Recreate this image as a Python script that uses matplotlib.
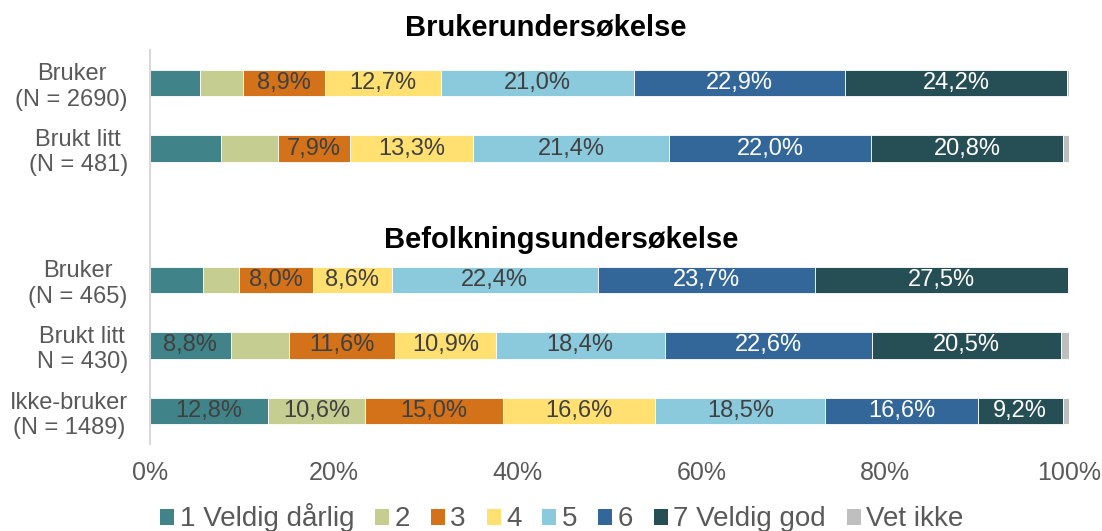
import numpy as np
import matplotlib
matplotlib.use("Agg")
import matplotlib.pyplot as plt
from matplotlib.patches import Patch

plt.rcParams['font.family'] = ['Liberation Sans', 'DejaVu Sans']

# data (percent)
rows = ["Bruker\n(N = 2690)", "Brukt litt\n(N = 481)",
        "Bruker\n(N = 465)", "Brukt litt\nN = 430)", "Ikke-bruker\n(N = 1489)"]
row_pos = [0, 1, 3, 4, 5]
categories = ["1 Veldig dårlig", "2", "3", "4", "5", "6", "7 Veldig god", "Vet ikke"]
v_bruker_2690 = [5.4, 4.7, 8.9, 12.7, 21.0, 22.9, 24.2, 0.2]
v_litt_481 = [7.7, 6.2, 7.9, 13.3, 21.4, 22.0, 20.8, 0.7]
v_bruker_465 = [5.8, 3.9, 8.0, 8.6, 22.4, 23.7, 27.5, 0.1]
v_litt_430 = [8.8, 6.3, 11.6, 10.9, 18.4, 22.6, 20.5, 0.9]
v_ikke_1489 = [12.8, 10.6, 15.0, 16.6, 18.5, 16.6, 9.2, 0.7]
values = np.array([v_bruker_2690, v_litt_481, v_bruker_465, v_litt_430, v_ikke_1489])

colors = ["#408489", "#C6CD91", "#D4721A", "#FFE070", "#8BC9DC", "#336699", "#264F55", "#BFBFBF"]
txt_colors = ["#404040"] * 5 + ["white", "white", "#404040"]

fig = plt.figure(figsize=(11.02, 5.31), dpi=100)
ax = fig.add_axes([150/1102, 1-444/531, 919/1102, 394/531])

left = np.zeros(len(rows))
for k in range(len(categories)):
    ax.barh(row_pos, values[:, k], left=left, height=0.4, color=colors[k],
            edgecolor="white", linewidth=0.6)
    for i, y in enumerate(row_pos):
        v = values[i, k]
        if v > 7.8 and k < 7:
            ax.text(left[i] + v/2, y, f"{v:.1f}%".replace(".", ","), ha="center", va="center",
                    fontsize=17, color=txt_colors[k])
    left += values[:, k]

ax.set_xlim(0, 100)
ax.set_ylim(5.5, -0.5)
ax.set_xticks(range(0, 101, 20))
ax.set_xticklabels([f"{t}%" for t in range(0, 101, 20)], fontsize=18, color="#595959")
ax.set_yticks(row_pos)
ax.set_yticklabels(rows, fontsize=17, color="#595959", multialignment="center")
ax.tick_params(axis="both", length=0)
ax.tick_params(axis="y", pad=16)
ax.tick_params(axis="x", pad=12)
for s in ["top", "right", "bottom"]:
    ax.spines[s].set_visible(False)
ax.spines["left"].set_color("#D9D9D9")
ax.spines["left"].set_linewidth(1.5)

fig.text(546/1102, 1-28/531, "Brukerundersøkelse", ha="center", va="center",
         fontsize=21, fontweight="bold")
fig.text(561/1102, 1-240/531, "Befolkningsundersøkelse", ha="center", va="center",
         fontsize=21, fontweight="bold")

handles = [Patch(facecolor=c, edgecolor="none") for c in colors]
leg = fig.legend(handles, categories, loc="center", bbox_to_anchor=(562/1102, 1-518/531),
                 ncol=8, frameon=False, fontsize=20, handlelength=0.5, handleheight=0.5,
                 handletextpad=0.2, columnspacing=0.75, borderpad=0)
for t in leg.get_texts():
    t.set_color("#595959")

fig.savefig("out.png", dpi=100)
